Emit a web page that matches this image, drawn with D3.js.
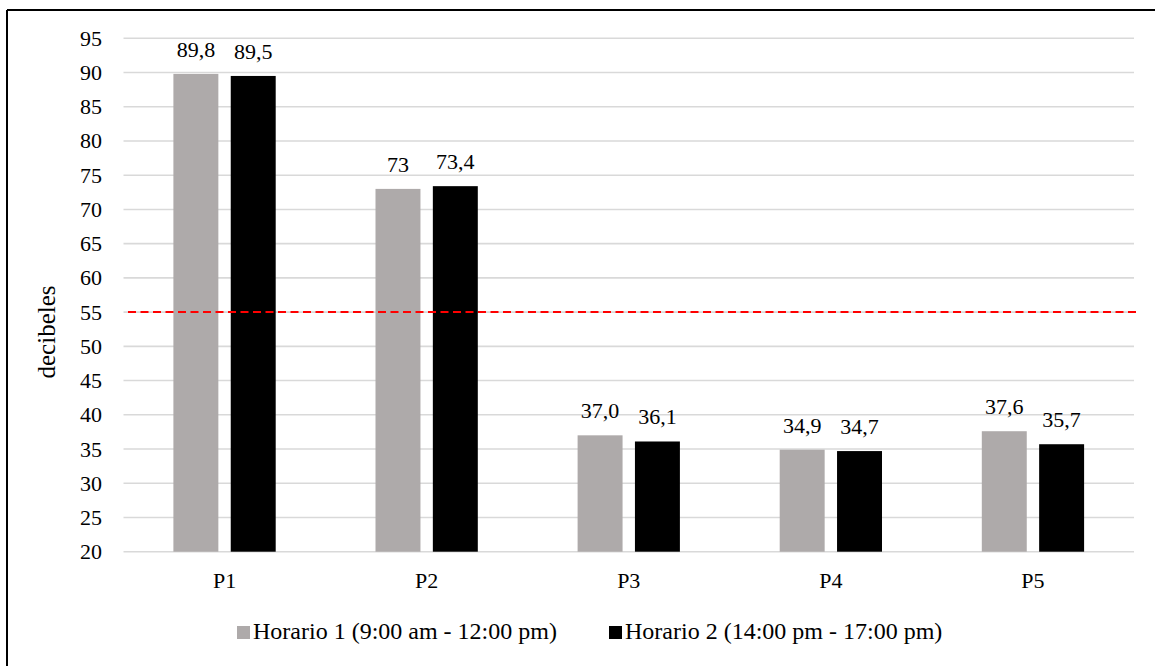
<!DOCTYPE html>
<html>
<head>
<meta charset="utf-8">
<script src="https://cdn.jsdelivr.net/npm/d3@7"></script>
<style>
  html, body { margin: 0; padding: 0; background: #fff; }
  svg { display: block; }
  text { font-family: "Liberation Serif", "Times New Roman", serif; fill: #000; }
</style>
</head>
<body>
<svg id="chart" width="1155" height="666"></svg>
<script>
// Noise levels measured at five points, two time windows
const categories = ["P1", "P2", "P3", "P4", "P5"];
const seriesNames = ["Horario 1 (9:00 am - 12:00 pm)", "Horario 2 (14:00 pm - 17:00 pm)"];
const horario1 = [89.8, 73, 37.0, 34.9, 37.6];
const horario2 = [89.5, 73.4, 36.1, 34.7, 35.7];
const labels1 = ["89,8", "73", "37,0", "34,9", "37,6"];
const labels2 = ["89,5", "73,4", "36,1", "34,7", "35,7"];
const yTicks = [20, 25, 30, 35, 40, 45, 50, 55, 60, 65, 70, 75, 80, 85, 90, 95];
const limitValue = 55;
const colors = ["#aeaaaa", "#000000"];

const svg = d3.select("#chart");

// Frame
svg.append("line").attr("x1", 7).attr("y1", 10).attr("x2", 1155).attr("y2", 10)
  .attr("stroke", "#000").attr("stroke-width", 2);
svg.append("line").attr("x1", 7).attr("y1", 10).attr("x2", 7).attr("y2", 666)
  .attr("stroke", "#000").attr("stroke-width", 2);

const plot = { left: 123.5, right: 1134, top: 38.3, bottom: 551.7 };

const y = d3.scaleLinear().domain([20, 95]).range([plot.bottom, plot.top]);
const x0 = d3.scaleBand().domain(categories).range([plot.left, plot.right]).padding(0);
const x1 = d3.scaleBand().domain([0, 1])
  .range([49.9, x0.bandwidth() - 49.9]).paddingInner(0.216).paddingOuter(0);

// Gridlines
svg.append("g").selectAll("line").data(yTicks).join("line")
  .attr("x1", plot.left).attr("x2", plot.right)
  .attr("y1", d => y(d)).attr("y2", d => y(d))
  .attr("stroke", "#d9d9d9").attr("stroke-width", 1.6);

// Y tick labels
svg.append("g").selectAll("text").data(yTicks).join("text")
  .attr("x", 102).attr("y", d => y(d) + 7.5)
  .attr("text-anchor", "end").attr("font-size", 22)
  .text(d => d);

// Axis title
svg.append("text")
  .attr("transform", "translate(55,332) rotate(-90)")
  .attr("text-anchor", "middle").attr("font-size", 25)
  .text("decibeles");

// Bars
const series = [horario1, horario2];
const seriesLabels = [labels1, labels2];
series.forEach((vals, s) => {
  const g = svg.append("g");
  g.selectAll("rect").data(categories).join("rect")
    .attr("x", c => x0(c) + x1(s))
    .attr("width", x1.bandwidth())
    .attr("y", (c, i) => y(vals[i]))
    .attr("height", (c, i) => y(20) - y(vals[i]))
    .attr("fill", colors[s]);
  g.selectAll("text").data(categories).join("text")
    .attr("x", c => x0(c) + x1(s) + x1.bandwidth() / 2)
    .attr("y", (c, i) => y(vals[i]) - 17)
    .attr("text-anchor", "middle").attr("font-size", 22)
    .text((c, i) => seriesLabels[s][i]);
});

// Reference limit line
svg.append("line")
  .attr("x1", 128).attr("x2", 1138)
  .attr("y1", y(limitValue)).attr("y2", y(limitValue))
  .attr("stroke", "#ff0000").attr("stroke-width", 2)
  .attr("stroke-dasharray", "8,4.5");

// Category labels
svg.append("g").selectAll("text").data(categories).join("text")
  .attr("x", c => x0(c) + x0.bandwidth() / 2)
  .attr("y", 588)
  .attr("text-anchor", "middle").attr("font-size", 22)
  .text(c => c);

// Legend
const legendPos = [237, 609];
seriesNames.forEach((name, s) => {
  svg.append("rect").attr("x", legendPos[s]).attr("y", 626)
    .attr("width", 13).attr("height", 13).attr("fill", colors[s]);
  svg.append("text").attr("x", legendPos[s] + 16).attr("y", 638.5)
    .attr("font-size", 24).text(name);
});
</script>
</body>
</html>
